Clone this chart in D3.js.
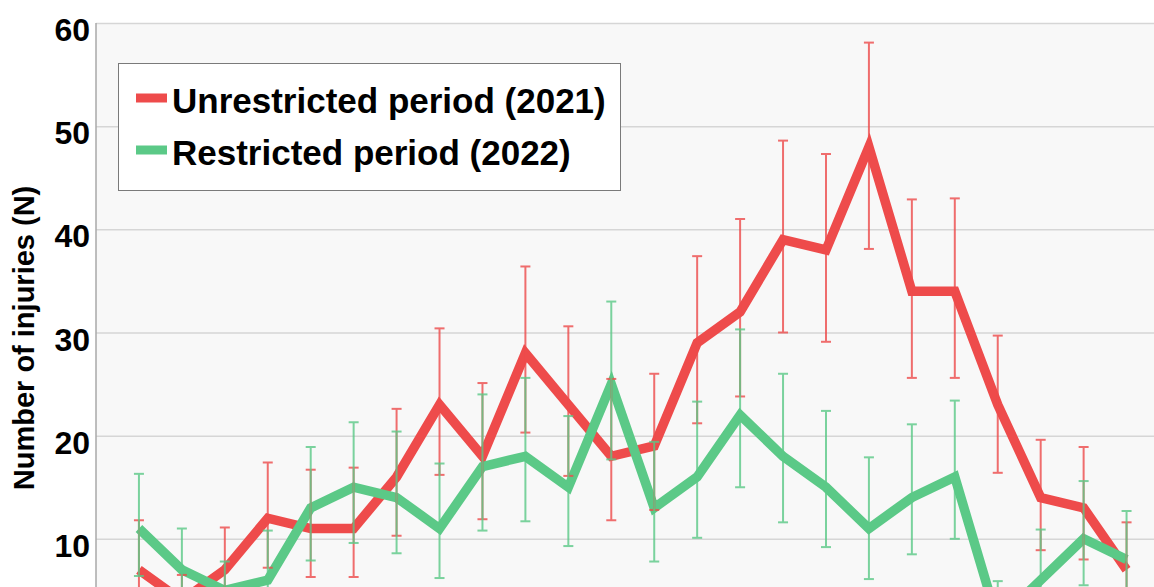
<!DOCTYPE html>
<html>
<head>
<meta charset="utf-8">
<script src="https://cdn.jsdelivr.net/npm/d3@7"></script>
<style>
  body { margin: 0; background: #fff; }
  text { font-family: "Liberation Sans", Arial, sans-serif; font-weight: bold; fill: #000; }
</style>
</head>
<body>
<div id="chart"></div>
<script>
// hours of the day (x categories)
const hours = [0, 1, 2, 3, 4, 5, 6, 7, 8, 9, 10, 11, 12, 13, 14, 15, 16, 17, 18, 19, 20, 21, 22, 23];

// Unrestricted period (2021)
const unrestricted     = [7, 4, 7, 12, 11, 11, 16, 23, 18, 28, 23, 18, 19, 29, 32, 39, 38, 48, 34, 34, 23, 14, 13, 7];
const unrestrictedLow  = [2.2, 1.5, 2.9, 7.2, 6.3, 6.3, 10.3, 16.2, 11.9, 20.3, 16.1, 11.8, 12.8, 21.2, 23.8, 30.0, 29.1, 38.1, 25.6, 25.6, 16.4, 8.9, 8.0, 2.4];
const unrestrictedHigh = [11.8, 6.5, 11.1, 17.4, 16.7, 16.9, 22.6, 30.4, 25.1, 36.4, 30.6, 25.5, 26.0, 37.4, 41.0, 48.6, 47.3, 58.1, 42.9, 43.0, 29.7, 19.6, 18.9, 11.6];

// Restricted period (2022)
const restricted     = [11, 7, 5, 6, 13, 15, 14, 11, 17, 18, 15, 25, 13, 16, 22, 18, 15, 11, 14, 16, 2, 6, 10, 8];
const restrictedLow  = [6.4, 3.0, 2.2, 1.2, 7.9, 9.6, 8.6, 6.2, 10.8, 11.7, 9.3, 17.7, 7.8, 10.1, 15.0, 11.6, 9.2, 6.1, 8.5, 10.0, 0, 1.2, 5.5, 3.3];
const restrictedHigh = [16.3, 11.0, 7.8, 10.8, 18.9, 21.3, 20.4, 17.3, 24.0, 25.6, 21.9, 33.0, 19.4, 23.3, 30.3, 26.0, 22.4, 17.9, 21.1, 23.4, 5.9, 10.9, 15.6, 12.7];

const yTicks = [0, 10, 20, 30, 40, 50, 60];
const seriesNames = ["Unrestricted period (2021)", "Restricted period (2022)"];
const seriesColors = ["#ee4b4b", "#5bc987"];

const svgWidth = 1154;
const svgHeight = 587;
const plotLeft = 96;
const plotTop = 23;

const svg = d3.select("#chart")
    .append("svg")
    .attr("width", svgWidth)
    .attr("height", svgHeight);

// scales
const xScale = d3.scaleLinear()
    .domain([-1, 24])
    .range([plotLeft, plotLeft + 25 * 42.94]);

const yScale = d3.scaleLinear()
    .domain([0, 60])
    .range([642, plotTop]);

// plot background
svg.append("rect")
    .attr("x", plotLeft)
    .attr("y", plotTop)
    .attr("width", svgWidth - plotLeft)
    .attr("height", svgHeight - plotTop)
    .attr("fill", "#f8f8f8");

svg.append("clipPath")
    .attr("id", "plotclip")
    .append("rect")
    .attr("x", plotLeft)
    .attr("y", plotTop - 2)
    .attr("width", svgWidth - plotLeft)
    .attr("height", svgHeight - plotTop + 2);

// gridlines
const grid = svg.append("g")
    .attr("transform", `translate(${plotLeft}, 0)`)
    .call(d3.axisLeft(yScale).tickValues(yTicks).tickSize(-(svgWidth - plotLeft)).tickFormat(""));
grid.select(".domain").remove();
grid.selectAll("line").attr("stroke", "#d6d6d6").attr("stroke-width", 1.5);

// left axis line
svg.append("line")
    .attr("x1", plotLeft).attr("x2", plotLeft)
    .attr("y1", plotTop).attr("y2", svgHeight)
    .attr("stroke", "#a8a8a8")
    .attr("stroke-width", 1.5);

// y tick labels
const yAxis = svg.append("g")
    .attr("transform", `translate(${plotLeft}, 0)`)
    .call(d3.axisLeft(yScale).tickValues(yTicks.slice(1)).tickSize(0).tickPadding(6));
yAxis.select(".domain").remove();
yAxis.selectAll("text")
    .attr("dy", "0.55em")
    .style("font-size", "32px")
    .style("font-family", "'Liberation Sans', Arial, sans-serif")
    .style("font-weight", "bold")
    .attr("fill", "#000");

// y title
svg.append("text")
    .attr("transform", "translate(34, 338) rotate(-90)")
    .attr("text-anchor", "middle")
    .style("font-size", "29px")
    .text("Number of injuries (N)");

const plot = svg.append("g").attr("clip-path", "url(#plotclip)");

const series = [
    { name: seriesNames[0], color: seriesColors[0], values: unrestricted, low: unrestrictedLow, high: unrestrictedHigh },
    { name: seriesNames[1], color: seriesColors[1], values: restricted, low: restrictedLow, high: restrictedHigh }
];

const line = d3.line()
    .x((d, i) => xScale(hours[i]))
    .y(d => yScale(d));

// lines
series.forEach(s => {
    plot.append("path")
        .datum(s.values)
        .attr("fill", "none")
        .attr("stroke", s.color)
        .attr("stroke-width", 9.5)
        .attr("stroke-linejoin", "miter")
        .attr("d", line);
});

// error bars on top
series.forEach(s => {
    const bars = plot.append("g")
        .attr("stroke", s.color)
        .attr("stroke-width", 2)
        .attr("opacity", 0.8);
    bars.selectAll(".bar")
        .data(hours)
        .enter()
        .append("line")
        .attr("x1", d => xScale(d)).attr("x2", d => xScale(d))
        .attr("y1", (d, i) => yScale(s.low[i]))
        .attr("y2", (d, i) => yScale(s.high[i]));
    bars.selectAll(".capHi")
        .data(hours)
        .enter()
        .append("line")
        .attr("x1", d => xScale(d) - 5).attr("x2", d => xScale(d) + 5)
        .attr("y1", (d, i) => yScale(s.high[i]))
        .attr("y2", (d, i) => yScale(s.high[i]));
    bars.selectAll(".capLo")
        .data(hours)
        .enter()
        .append("line")
        .attr("x1", d => xScale(d) - 5).attr("x2", d => xScale(d) + 5)
        .attr("y1", (d, i) => yScale(s.low[i]))
        .attr("y2", (d, i) => yScale(s.low[i]));
});

// legend
const legend = svg.append("g");
legend.append("rect")
    .attr("x", 118.5).attr("y", 63.5)
    .attr("width", 502).attr("height", 127)
    .attr("fill", "#fff")
    .attr("stroke", "#7a7a7a")
    .attr("stroke-width", 1);

series.forEach((s, i) => {
    const yy = 98 + i * 52;
    legend.append("line")
        .attr("x1", 136).attr("x2", 167)
        .attr("y1", yy).attr("y2", yy)
        .attr("stroke", s.color)
        .attr("stroke-width", 9);
    legend.append("text")
        .attr("x", 172)
        .attr("y", yy + 15)
        .style("font-size", "35px")
        .text(s.name);
});
</script>
</body>
</html>
